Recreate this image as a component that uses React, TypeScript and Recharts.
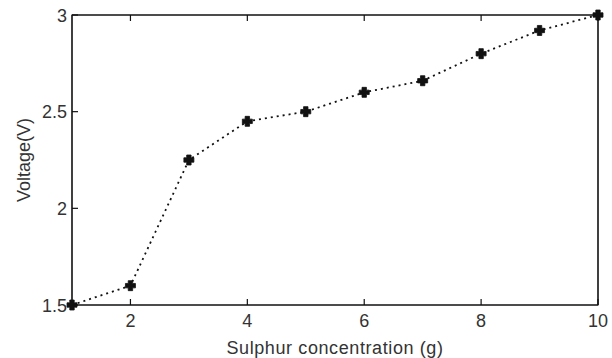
import React from "react";
import { LineChart, Line, XAxis, YAxis, ReferenceArea } from "recharts";

// Sulphur concentration (g) vs. output voltage (V)
const concentration = [1, 2, 3, 4, 5, 6, 7, 8, 9, 10];
const voltage = [1.5, 1.6, 2.25, 2.45, 2.5, 2.6, 2.66, 2.8, 2.92, 3.0];
const xTicks = [2, 4, 6, 8, 10];
const yTicks = [1.5, 2, 2.5, 3];

const data = concentration.map((c, i) => ({ c, v: voltage[i] }));

const INK = "#111";
const TEXT = "#333";
const FONT = "'Liberation Sans', Arial, sans-serif";
const FS = 18;
const TICK_LEN = 6;

// MATLAB-style ticks: mark points into the plot, label sits outside
function BottomTick({ x, y, payload }: any) {
  return (
    <g>
      <line x1={x} x2={x} y1={y} y2={y - TICK_LEN} stroke={INK} strokeWidth={1.2} />
      <text x={x} y={y + 22} textAnchor="middle" fill={TEXT} fontSize={FS} fontFamily={FONT}>
        {payload.value}
      </text>
    </g>
  );
}

function TopTick({ x, y }: any) {
  return <line x1={x} x2={x} y1={y} y2={y + TICK_LEN} stroke={INK} strokeWidth={1.2} />;
}

function LeftTick({ x, y, payload }: any) {
  return (
    <g>
      <line x1={x} x2={x + TICK_LEN} y1={y} y2={y} stroke={INK} strokeWidth={1.2} />
      <text x={x - 5} y={y + 6.5} textAnchor="end" fill={TEXT} fontSize={FS} fontFamily={FONT}>
        {payload.value}
      </text>
    </g>
  );
}

function RightTick({ x, y }: any) {
  return <line x1={x} x2={x - TICK_LEN} y1={y} y2={y} stroke={INK} strokeWidth={1.2} />;
}

// filled plus-shaped marker
function Marker({ cx, cy }: any) {
  if (cx == null || cy == null) return null;
  const a = 5, t = 2.2;
  const d = `M${cx - t},${cy - a} H${cx + t} V${cy - t} H${cx + a} V${cy + t} H${cx + t} V${cy + a} H${cx - t} V${cy + t} H${cx - a} V${cy - t} H${cx - t} Z`;
  return <path d={d} fill={INK} stroke={INK} strokeWidth={0.8} />;
}

export default function App() {
  return (
    <div style={{ position: "absolute", left: 0, top: 0, background: "#fff" }}>
      <LineChart width={612} height={358} data={data}
        margin={{ top: 15, right: 14, bottom: 0, left: 0 }}>
        <XAxis dataKey="c" type="number" domain={[1, 10]} ticks={xTicks} height={53}
          stroke={INK} axisLine tickLine={false} tickSize={0} tickMargin={0}
          tick={<BottomTick />} interval={0}
          label={{ value: "Sulphur concentration (g)", position: "insideBottom", offset: 4,
            fill: TEXT, fontSize: FS, fontFamily: FONT, letterSpacing: 0.6 }} />
        <XAxis xAxisId="top" orientation="top" dataKey="c" type="number" domain={[1, 10]}
          ticks={xTicks} height={1} mirror stroke={INK} axisLine tickLine={false} tickSize={0}
          tickMargin={0} tick={<TopTick />} interval={0} />
        <YAxis dataKey="v" type="number" domain={[1.5, 3]} ticks={yTicks} width={72}
          stroke={INK} axisLine tickLine={false} tickSize={0} tickMargin={0}
          tick={<LeftTick />} interval={0}
          label={{ value: "Voltage(V)", angle: -90, position: "insideLeft", offset: 24,
            fill: TEXT, fontSize: FS, fontFamily: FONT, style: { textAnchor: "middle" } }} />
        <YAxis yAxisId="right" orientation="right" type="number" domain={[1.5, 3]}
          ticks={yTicks} width={1} mirror stroke={INK} axisLine tickLine={false} tickSize={0}
          tickMargin={0} tick={<RightTick />} interval={0} />
        <ReferenceArea x1={1} x2={10} y1={1.5} y2={3} fill="none" stroke={INK}
          strokeWidth={1.2} fillOpacity={0} />
        <Line type="linear" dataKey="v" stroke={INK} strokeWidth={1.8}
          strokeDasharray="2 4" dot={<Marker />} activeDot={false}
          isAnimationActive={false} />
      </LineChart>
    </div>
  );
}
